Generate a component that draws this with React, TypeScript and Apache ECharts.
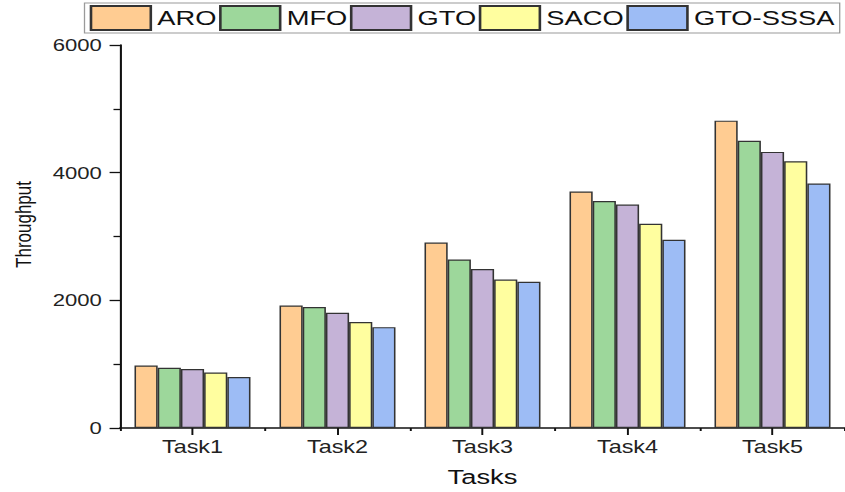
import React, { useEffect, useRef } from "react";
import * as echarts from "echarts";

const categories = ["Task1", "Task2", "Task3", "Task4", "Task5"];
const seriesNames = ["ARO", "MFO", "GTO", "SACO", "GTO-SSSA"];
const aro = [980, 1920, 2905, 3705, 4815];
const mfo = [945, 1895, 2640, 3555, 4500];
const gto = [925, 1805, 2490, 3500, 4325];
const saco = [870, 1660, 2325, 3200, 4180];
const gtoSssa = [800, 1580, 2290, 2950, 3830];
const colors = ["#FFCC92", "#9DD79B", "#C5B3D7", "#FFFE9F", "#9DBCF5"];

const STRETCH = 1.3;
const W = 845 / STRETCH;
const H = 492;
const FONT = "'Liberation Sans', Arial, sans-serif";

export default function App() {
  const ref = useRef<HTMLDivElement>(null);
  useEffect(() => {
    if (!ref.current) return;
    const chart = echarts.init(ref.current, undefined, { renderer: "svg" });
    const values = [aro, mfo, gto, saco, gtoSssa];
    chart.setOption({
      animation: false,
      textStyle: { fontFamily: FONT },
      legend: {
        left: 65,
        top: 3,
        padding: [2, 4],
        itemGap: 2,
        itemWidth: 46,
        itemHeight: 24,
        icon: "rect",
        borderColor: "#9a9a9a",
        borderWidth: 1,
        textStyle: { fontSize: 21, color: "#111", fontFamily: FONT },
        data: seriesNames,
      },
      grid: { left: 92.3, right: 0, top: 45, bottom: 63 },
      xAxis: [
        {
          type: "category",
          data: categories,
          position: "bottom",
          axisLine: { show: true, lineStyle: { color: "#111", width: 1.6 } },
          axisTick: { show: true, alignWithLabel: true, length: 7, lineStyle: { color: "#111", width: 1.5 } },
          axisLabel: { fontSize: 18, color: "#222", margin: 10, fontFamily: FONT },
          name: "Tasks",
          nameLocation: "middle",
          nameGap: 38,
          nameTextStyle: { fontSize: 21, color: "#111", fontFamily: FONT },
        },
        {
          type: "category",
          data: categories,
          position: "bottom",
          axisLine: { show: false },
          axisTick: { show: true, length: 3, lineStyle: { color: "#111", width: 1.5 } },
          axisLabel: { show: false },
        },
      ],
      yAxis: {
        type: "value",
        min: 0,
        max: 6000,
        interval: 2000,
        axisLine: { show: true, lineStyle: { color: "#111", width: 1.6 } },
        axisTick: { show: true, length: 8, lineStyle: { color: "#111", width: 1.3 } },
        minorTick: { show: true, splitNumber: 2, length: 5, lineStyle: { color: "#111", width: 1.3 } },
        splitLine: { show: false },
        axisLabel: {
          fontSize: 17,
          color: "#222",
          margin: 14,
          fontFamily: FONT,
          formatter: (v: number) => String(v),
        },
        name: "Throughput",
        nameLocation: "middle",
        nameGap: 66,
        nameTextStyle: { fontSize: 17, color: "#111", fontFamily: FONT, padding: [0, 0, 0, 24] },
      },
      series: seriesNames.map((name, i) => ({
        name,
        type: "bar",
        xAxisIndex: 0,
        data: values[i],
        barGap: "0%",
        barCategoryGap: "20%",
        itemStyle: { color: colors[i], borderColor: "#333", borderWidth: 1.2 },
      })),
    });
    return () => chart.dispose();
  }, []);
  return (
    <div
      style={{
        position: "fixed",
        left: 0,
        top: 0,
        width: 845,
        height: H,
        overflow: "hidden",
        background: "#fff",
      }}
    >
      <div
        ref={ref}
        style={{
          width: W,
          height: H,
          transform: `scaleX(${STRETCH})`,
          transformOrigin: "0 0",
        }}
      />
    </div>
  );
}
